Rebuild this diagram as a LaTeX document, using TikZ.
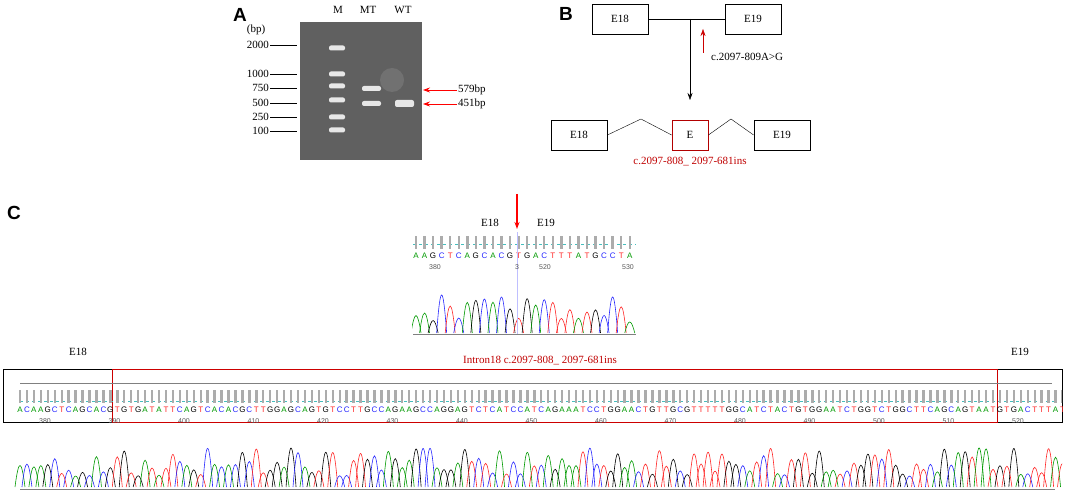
\documentclass[tikz,border=0pt]{standalone}
\usepackage{fontspec}
\setmainfont{Liberation Serif}
\newfontfamily\arial{Liberation Sans}
\usetikzlibrary{arrows.meta,positioning}
\definecolor{gelgray}{RGB}{96,96,96}
\definecolor{seqteal}{RGB}{70,190,190}
\tikzset{
  baseA/.style={color=green!60!black},
  baseC/.style={color=blue!85},
  baseG/.style={color=black},
  baseT/.style={color=red!85}
}
\newcount\bcnt
\makeatletter
% x0, dx, y of letters, y of peak base, sequence
\newcommand\baserow[5]{%
  \bcnt=0
  \@tfor\ch:=#5\do{%
    \pgfmathsetmacro\bx{#1+#2*\bcnt}
    \node[seqletter,base\ch] at (\bx,#3) {\ch};
    \fill[gray!65] (\bx-1.2,#3-20) rectangle (\bx+1.2,#3-7);
    \pgfmathsetmacro\bh{14+rnd*38}
    \draw[base\ch,line width=0.6pt] (\bx-5,#4) .. controls (\bx-1.3,#4-\bh) and (\bx+1.3,#4-\bh) .. (\bx+5,#4);
    \global\advance\bcnt by 1 }}
\makeatother

\begin{document}
\begin{tikzpicture}[x=1pt,y=-1pt,>={Stealth[length=7pt,width=5pt]}]
\tikzstyle{panel} = [font=\arial\bfseries\fontsize{19}{19}\selectfont]
\tikzstyle{lbl} = [font=\fontsize{11}{12}\selectfont, inner sep=1pt]
\tikzstyle{exon} = [draw, thick, minimum width=56pt, minimum height=30pt, font=\fontsize{11}{12}\selectfont]
\tikzstyle{band} = [fill=white, opacity=0.85, rounded corners=2pt]
\tikzstyle{seqletter} = [font=\arial\fontsize{8}{9}\selectfont, inner sep=0pt]
\tikzstyle{seqnum} = [font=\arial\fontsize{7}{8}\selectfont, inner sep=0pt, text=gray!70!black]
\useasboundingbox (0,0) rectangle (1065,497);
\pgfmathsetseed{42}

% panel A
\node[panel] (pa) at (240,15) {A};
\fill[gelgray] (300,22) rectangle (422,160);
\fill[black!45,opacity=0.4] (392,80) circle (12);
\foreach \y in {48,74,86,100,117,130}
  \fill[band] (329,\y-2.5) rectangle (345,\y+2.5);
\fill[band] (362,86) rectangle (381,91);
\fill[band] (362,101) rectangle (381,106);
\fill[band] (395,100) rectangle (414,107);
\node[lbl] (lm) at (338,10) {M};
\node[lbl] (lmt) at (368,10) {MT};
\node[lbl] (lwt) at (403,10) {WT};
\node[lbl] (bp) at (256,30) {(bp)};
\foreach \y/\t in {45/2000,74/1000,88/750,103/500,117/250,131/100}{
  \node[lbl,anchor=east] (m\t) at (270,\y) {\t};
  \draw[thick] (m\t.east) -- (297,\y);
}
\node[lbl,anchor=west] (s579) at (457,90) {579bp};
\node[lbl,anchor=west] (s451) at (457,104) {451bp};
\draw[->,red,thick] (s579.west) -- (423,90);
\draw[->,red,thick] (s451.west) -- (423,104);

% panel B
\node[panel] (pb) at (566,14) {B};
\node[exon] (e18a) at (620,19) {E18};
\node[exon] (e19a) at (753,19) {E19};
\draw (e18a) -- (e19a);
\coordinate (split) at (690,19);
\draw[->] (split) -- (690,100);
\node[lbl,anchor=west] (mut) at (710,57) {c.2097-809A>G};
\draw[->,red!80!black] (703,53) -- (703,29);
\node[exon] (e18b) at (579,135) {E18};
\node[exon,draw=red!70!black,minimum width=36pt] (ee) at (690,135) {E};
\node[exon] (e19b) at (782,135) {E19};
\draw (e18b.east) -- (641,119) -- (ee.west);
\draw (ee.east) -- (731,119) -- (e19b.west);
\node[lbl,text=red!75!black,below=6pt of ee] (ins) {c.2097-808\_ 2097-681ins};

% panel C
\node[panel] (pc) at (14,213) {C};
\draw[->,red,very thick] (517,194) -- (517,229);
\node[lbl] (c18) at (490,223) {E18};
\node[lbl] (c19) at (546,223) {E19};
\draw[seqteal,dashed,thick] (413,244) -- (636,244);
\begin{scope}
\clip (412,230) rectangle (637,345);
\baserow{416}{8.55}{256}{333}{AAGCTCAGCACGTGACTTTATGCCTA}
\end{scope}
\draw[gray,thick] (413,334) -- (636,334);
\draw[blue!25] (517,232) -- (517,334);
\foreach \x/\t in {435/380,517/3,545/520,628/530}
  \node[seqnum] at (\x,267) {\t};

\node[lbl] (f18) at (78,352) {E18};
\node[lbl] (f19) at (1020,352) {E19};
\node[lbl,text=red!75!black,anchor=south] (intr) at (540,366) {Intron18 c.2097-808\_ 2097-681ins};
\draw (3,369) rectangle (1062,422);
\draw[red!80!black] (112,369) rectangle (997,422);
\draw[gray,thick] (20,383) -- (1052,383);
\draw[seqteal,dashed,thick] (20,401) -- (1055,401);
\begin{scope}
\clip (3,380) rectangle (1062,492);
\baserow{20}{6.95}{410}{487}{ACAAGCTCAGCACGTGTGATATTCAGTCACACGCTTGGAGCAGTGTCCTTGCCAGAAGCCAGGAGTCTCATCCATCAGAAATCCTGGAACTGTTGCGTTTTTGGCATCTACTGTGGAATCTGGTCTGGCTTCAGCAGTAATGTGACTTTAT}
\end{scope}
\draw[gray,thick] (20,489) -- (1055,489);
\foreach \i in {0,...,14}{
  \pgfmathtruncatemacro\num{380+10*\i}
  \node[seqnum] at (45+69.5*\i,421) {\num};
}
\end{tikzpicture}
\end{document}
